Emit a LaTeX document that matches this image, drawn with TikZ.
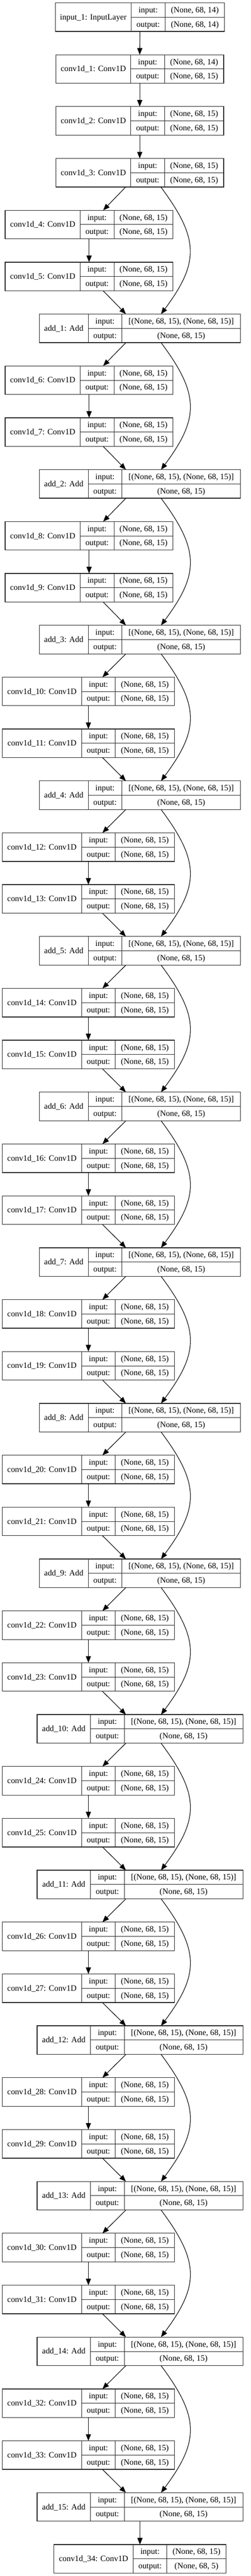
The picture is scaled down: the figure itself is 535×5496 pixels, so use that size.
\documentclass[tikz,border=0pt]{standalone}
\usepackage{fontspec}
\setmainfont{Liberation Serif}
\usetikzlibrary{arrows.meta,positioning}
\definecolor{lGray}{gray}{0.15}
\tikzset{
    cell/.style={draw=lGray, line width=1pt, inner sep=0pt, outer sep=0pt, minimum height=30.5pt,
        text height=12pt, text depth=1pt, font=\fontsize{17.5}{20}\selectfont},
    namecell/.style={cell, minimum height=61pt},
    portcell/.style={cell, minimum width=72pt},
    frame/.style={draw=lGray, line width=1.4pt, inner sep=0pt, outer sep=0pt, minimum height=61pt},
    flow/.style={line width=1.2pt, -{Triangle[length=14pt,width=11pt]}}
}
% one keras layer record: id, left x, row, name width, shape width, name, in, out
\newcommand{\layerbox}[8]{%
  \pgfmathsetmacro{\ytop}{6+110.67*(#3)}
  \node[frame, minimum width={(#4+72+#5)*1pt}, anchor=north west] (#1) at (#2,\ytop) {};
  \node[namecell, minimum width=#4pt, anchor=north west] (#1-n) at (#1.north west) {#6};
  \node[portcell, anchor=north west] (#1-i) at (#1-n.north east) {input:};
  \node[portcell, anchor=north west] (#1-o) at (#1-i.south west) {output:};
  \node[cell, minimum width=#5pt, anchor=north west] (#1-iv) at (#1-i.north east) {#7};
  \node[cell, minimum width=#5pt, anchor=north west] (#1-ov) at (#1-o.north east) {#8};
}

\begin{document}
\begin{tikzpicture}[x=1pt,y=-1pt]
\useasboundingbox (0,0) rectangle (535,5496);
\layerbox{in1}{118}{0}{162}{127}{input\_1: InputLayer}{(None, 68, 14)}{(None, 68, 14)}
\layerbox{c1}{119}{1}{160}{126}{conv1d\_1: Conv1D}{(None, 68, 14)}{(None, 68, 15)}
\layerbox{c2}{119}{2}{160}{126}{conv1d\_2: Conv1D}{(None, 68, 15)}{(None, 68, 15)}
\layerbox{c3}{119}{3}{160}{126}{conv1d\_3: Conv1D}{(None, 68, 15)}{(None, 68, 15)}
\draw[flow] (in1.south) -- (c1.north);
\draw[flow] (c1.south) -- (c2.north);
\draw[flow] (c2.south) -- (c3.north);
% residual blocks
\foreach \k in {1,...,15}{
  \pgfmathtruncatemacro{\cp}{2*\k+2}
  \pgfmathtruncatemacro{\cq}{2*\k+3}
  \pgfmathtruncatemacro{\rw}{3*\k}
  \pgfmathtruncatemacro{\prv}{\k-1}
  \ifnum\k<4 \def\cl{11}\def\cw{160}\else\def\cl{5}\def\cw{169}\fi
  \ifnum\k<10 \def\al{84}\def\aw{104}\else\def\al{79}\def\aw{114}\fi
  \ifnum\k=1 \def\src{c3}\else\def\src{a\prv}\fi
  \layerbox{c\cp}{\cl}{\rw+1}{\cw}{126}{conv1d\_\cp: Conv1D}{(None, 68, 15)}{(None, 68, 15)}
  \layerbox{c\cq}{\cl}{\rw+2}{\cw}{126}{conv1d\_\cq: Conv1D}{(None, 68, 15)}{(None, 68, 15)}
  \layerbox{a\k}{\al}{\rw+3}{\aw}{253}{add\_\k: Add}{[(None, 68, 15), (None, 68, 15)]}{(None, 68, 15)}
  \draw[flow] ([xshift=-30pt]\src.south) -- ([xshift=30pt]c\cp.north);
  \draw[flow] (c\cp.south) -- (c\cq.north);
  \draw[flow] ([xshift=30pt]c\cq.south) -- ([xshift=-30pt]a\k.north);
  \draw[flow] ([xshift=45pt]\src.south) .. controls +(82,110) and +(82,-110) .. ([xshift=45pt]a\k.north);
}
\layerbox{c34}{115}{49}{169}{126}{conv1d\_34: Conv1D}{(None, 68, 15)}{(None, 68, 5)}
\draw[flow] (a15.south) -- (c34.north);
\end{tikzpicture}
\end{document}
